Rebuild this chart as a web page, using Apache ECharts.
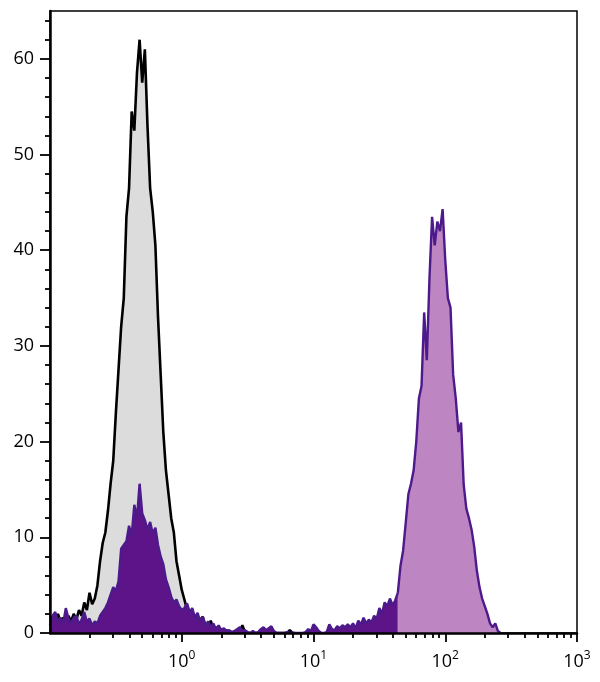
<!DOCTYPE html>
<html>
<head>
<meta charset="utf-8">
<script src="https://cdn.jsdelivr.net/npm/echarts@6/dist/echarts.min.js"></script>
<style>
html,body{margin:0;padding:0;background:#fff;}
#chart{width:600px;height:682px;}
</style>
</head>
<body>
<div id="chart"></div>
<script>
// Histogram channels: position of channel i = channelStart + i * channelWidth (log10 of fluorescence)
const channelStart = -1;
const channelWidth = 0.02;

// Unstained / isotype control (grey fill, black outline)
const controlCounts = [
  0.8,1.5,1.0,2.0,1.2,1.6,1.0,1.8,1.2,2.0,
  1.4,2.4,1.8,3.2,2.4,4.2,3.0,3.6,5.0,7.5,
  9.4,10.5,12.8,15.6,18.0,23.0,27.5,32.0,35.0,43.5,
  46.5,54.5,52.5,58.5,62.0,57.5,61.0,53.0,46.5,44.0,
  40.5,33.0,27.0,21.0,17.0,14.5,12.0,10.5,7.5,6.0,
  4.5,3.5,2.4,1.8,1.2,1.6,0.8,1.4,1.7,0.7,
  0.5,1.3,0.4,0.6,0.2,0.4,0.1,0.3,0,0,
  0.2,0,0.1,0.8,0.1,0,0,0,0,0,
  0,0,0,0,0,0,0,0,0,0,
  0,0.3,0,0
];

// Stained sample (purple outline)
const stainedCounts = [
  1.0,1.8,2.2,1.2,1.6,1.0,2.6,1.5,1.0,1.6,
  1.8,0.9,1.4,2.2,1.2,1.5,0.8,1.2,1.0,1.8,
  2.2,2.6,3.2,4.0,4.8,4.4,5.4,8.8,9.2,9.6,
  11.2,10.2,13.4,12.0,15.6,12.5,11.8,10.8,11.6,10.4,
  11.0,9.2,8.0,7.2,5.6,4.8,3.8,3.2,3.5,2.8,
  2.4,2.6,3.1,2.2,2.6,1.6,2.1,1.2,1.7,0.8,
  1.2,0.6,1.0,0.4,0.8,0.3,0.5,0.2,0.3,0.1,
  0.2,0.4,0.6,0.2,0.3,0.1,0,0.2,0,0.1,
  0.4,0.6,0.3,0.5,0.7,0.2,0,0,0,0,
  0.1,0,0,0,0,0,0,0.1,0.4,0.2,
  0.9,0.6,0.2,0,0,0.1,0.9,0.4,0.3,0.7,
  0.5,0.8,0.6,0.9,0.6,1.0,0.5,1.3,0.9,1.6,
  1.0,1.4,1.1,1.8,1.5,2.6,2.0,3.2,2.8,3.6,
  2.9,3.4,4.2,7.0,8.6,11.5,14.5,15.6,17.0,20.0,
  24.5,25.8,33.5,28.5,37.0,43.5,40.5,43.0,42.0,44.3,
  39.0,35.0,34.0,27.0,24.5,21.0,22.0,15.5,13.0,12.0,
  10.8,9.0,6.5,4.8,3.6,2.8,2.0,1.0,0.6,1.0,
  0.2,0
];
// channel where the positive gate (light fill) begins
const gateChannel = 132;

// Axis ticks
const yMajorTicks = [0,10,20,30,40,50,60];
const yMinorTicks = [2,4,6,8,12,14,16,18,22,24,26,28,32,34,36,38,42,44,46,48,52,54,56,58,62,64];
const xDecadeTicks = [0,1,2,3];  // exponents: 10^0 ... 10^3
const xMinorTickValues = [0.2,0.3,0.4,0.5,0.6,0.7,0.8,0.9,
  2,3,4,5,6,7,8,9, 20,30,40,50,60,70,80,90, 200,300,400,500,600,700,800,900];

function toPoints(counts, from, to) {
  const pts = [];
  for (let i = from; i < to; i++) {
    pts.push([channelStart + i * channelWidth, counts[i]]);
  }
  return pts;
}

const FONT = 'Open Sans';
const chart = echarts.init(document.getElementById('chart'), null, {renderer: 'canvas'});

const option = {
  animation: false,
  backgroundColor: '#fff',
  grid: {
    left: 50, right: 23, top: 11, bottom: 49,
    show: true, borderColor: '#000', borderWidth: 1.5, backgroundColor: 'transparent'
  },
  xAxis: [
    {
      type: 'value', position: 'bottom', min: -1, max: 3, interval: 1, z: 10,
      axisLine: {show: true, onZero: false, lineStyle: {color: '#000', width: 2.5}},
      axisTick: {show: true, length: 9, customValues: xDecadeTicks, lineStyle: {color: '#000', width: 1.8}},
      splitLine: {show: false},
      axisLabel: {
        customValues: xDecadeTicks,
        margin: 17,
        color: '#000',
        formatter: function (v) { return '{b|10}{e|' + Math.round(v) + '}'; },
        rich: {
          b: {fontSize: 18, fontFamily: FONT, color: '#000', lineHeight: 21, verticalAlign: 'bottom'},
          e: {fontSize: 12, fontFamily: FONT, color: '#000', lineHeight: 10, verticalAlign: 'top'}
        }
      }
    },
    {
      type: 'value', position: 'bottom', min: -1, max: 3, interval: 1, z: 10,
      axisLine: {show: false, onZero: false},
      axisTick: {show: true, length: 5, customValues: xMinorTickValues.map(v => Math.log10(v)),
                 lineStyle: {color: '#000', width: 1.8}},
      axisLabel: {show: false},
      splitLine: {show: false}
    }
  ],
  yAxis: [
    {
      type: 'value', position: 'left', min: 0, max: 65, interval: 10, z: 10,
      axisLine: {show: true, onZero: false, lineStyle: {color: '#000', width: 2.5}},
      axisTick: {show: true, length: 10, customValues: yMajorTicks, lineStyle: {color: '#000', width: 1.8}},
      axisLabel: {customValues: yMajorTicks, margin: 16, color: '#000', fontSize: 18, fontFamily: FONT},
      splitLine: {show: false}
    },
    {
      type: 'value', position: 'left', min: 0, max: 65, interval: 10, z: 10,
      axisLine: {show: false, onZero: false},
      axisTick: {show: true, length: 5, customValues: yMinorTicks, lineStyle: {color: '#000', width: 1.8}},
      axisLabel: {show: false},
      splitLine: {show: false}
    }
  ],
  series: [
    {
      name: 'Control', type: 'line', xAxisIndex: 0, yAxisIndex: 0,
      data: toPoints(controlCounts, 0, controlCounts.length),
      showSymbol: false, symbol: 'none', z: 2,
      lineStyle: {color: '#000', width: 2.6},
      itemStyle: {color: '#000'},
      areaStyle: {color: '#dcdcdc', opacity: 1}
    },
    {
      name: 'Stained (negative)', type: 'line', xAxisIndex: 0, yAxisIndex: 0,
      data: toPoints(stainedCounts, 0, gateChannel + 1),
      showSymbol: false, symbol: 'none', z: 3,
      lineStyle: {color: '#4d1a8c', width: 2.4},
      itemStyle: {color: '#4d1a8c'},
      areaStyle: {color: '#5c1488', opacity: 1}
    },
    {
      name: 'Stained (positive)', type: 'line', xAxisIndex: 0, yAxisIndex: 0,
      data: toPoints(stainedCounts, gateChannel, stainedCounts.length),
      showSymbol: false, symbol: 'none', z: 3,
      lineStyle: {color: '#4d1a8c', width: 2.4},
      itemStyle: {color: '#4d1a8c'},
      areaStyle: {color: '#bd85c1', opacity: 1}
    }
  ]
};
chart.setOption(option);
</script>
</body>
</html>
